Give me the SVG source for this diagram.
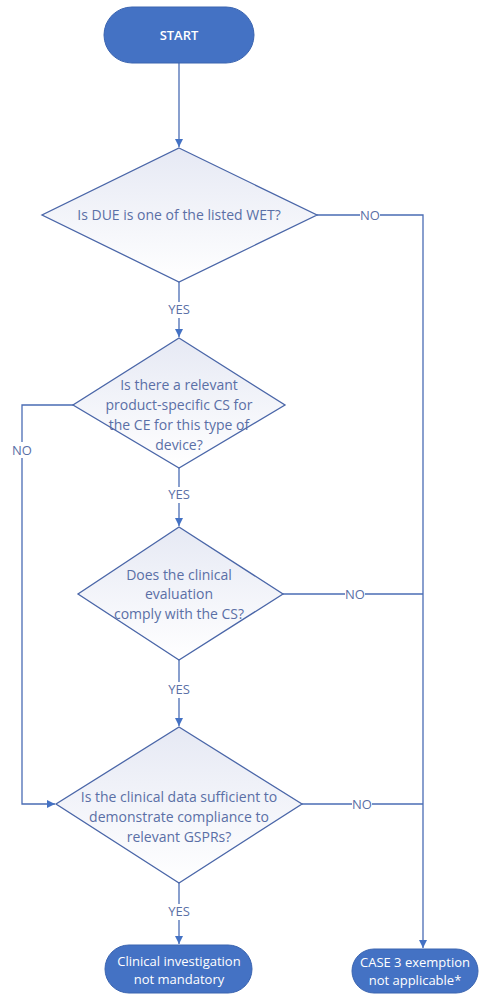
<svg xmlns="http://www.w3.org/2000/svg" width="492" height="997" viewBox="0 0 492 997">
  <style>
    .term { fill: #4472C4; stroke: #3A64B0; stroke-width: 1; }
    .term-text { fill: #ffffff; font-family: "Open Sans", "Liberation Sans", sans-serif; font-size: 13px; text-anchor: middle; }
    .dec { fill: url(#decFill); stroke: #4A66A8; stroke-width: 1.3; }
    .dec-text { fill: #5A6FA6; font-family: "Open Sans", "Liberation Sans", sans-serif; font-size: 14px; text-anchor: middle; }
    .wire { fill: none; stroke: #4A6CB4; stroke-width: 1.3; }
    .lbl { fill: #5A6FA6; font-family: "Open Sans", "Liberation Sans", sans-serif; font-size: 13px; text-anchor: middle; }
    .lbl-bg { fill: #ffffff; }
  </style>
  <defs>
    <linearGradient id="decFill" x1="0" y1="0" x2="0" y2="1">
      <stop offset="0" stop-color="#E6E9F4"/>
      <stop offset="1" stop-color="#FFFFFF"/>
    </linearGradient>
    <marker id="arrow" viewBox="0 0 10 10" refX="10" refY="5" markerWidth="8" markerHeight="8" markerUnits="userSpaceOnUse" orient="auto">
      <path d="M0,0 L10,5 L0,10 z" fill="#4472C4"/>
    </marker>
  </defs>

  <rect width="492" height="997" fill="#ffffff"/>

  <!-- connectors -->
  <g id="connectors">
    <path class="wire" d="M179,63 V147" marker-end="url(#arrow)"/>
    <path class="wire" d="M179,282 V337" marker-end="url(#arrow)"/>
    <path class="wire" d="M317,215 H423 V948" marker-end="url(#arrow)"/>
    <path class="wire" d="M73,405 H22 V804 H55" marker-end="url(#arrow)"/>
    <path class="wire" d="M179,468 V526" marker-end="url(#arrow)"/>
    <path class="wire" d="M283,594 H423"/>
    <path class="wire" d="M179,660 V726" marker-end="url(#arrow)"/>
    <path class="wire" d="M302,804 H423"/>
    <path class="wire" d="M179,883 V944" marker-end="url(#arrow)"/>

    <rect class="lbl-bg" x="164" y="302" width="30" height="16"/>
    <text class="lbl" x="179" y="314">YES</text>
    <rect class="lbl-bg" x="164" y="487" width="30" height="16"/>
    <text class="lbl" x="179" y="499">YES</text>
    <rect class="lbl-bg" x="164" y="682" width="30" height="16"/>
    <text class="lbl" x="179" y="694">YES</text>
    <rect class="lbl-bg" x="164" y="904" width="30" height="16"/>
    <text class="lbl" x="179" y="916">YES</text>

    <rect class="lbl-bg" x="360" y="207" width="20" height="16"/>
    <text class="lbl" x="370" y="220">NO</text>
    <rect class="lbl-bg" x="345" y="586" width="20" height="16"/>
    <text class="lbl" x="355" y="599">NO</text>
    <rect class="lbl-bg" x="352" y="796" width="20" height="16"/>
    <text class="lbl" x="362" y="809">NO</text>
    <rect class="lbl-bg" x="10" y="442" width="24" height="16"/>
    <text class="lbl" x="22" y="455">NO</text>
  </g>

  <g id="start">
    <rect class="term" x="104" y="7" width="150" height="56" rx="28"/>
    <text class="term-text" x="179" y="40" font-weight="600">START</text>
  </g>

  <g id="q-wet">
    <polygon class="dec" points="179,148 317,215 179,282 42,215"/>
    <text class="dec-text" x="179" y="220">Is DUE is one of the listed WET?</text>
  </g>

  <g id="q-cs">
    <polygon class="dec" points="179,338 285,405 179,468 73,405"/>
    <text class="dec-text" x="179" y="390">Is there a relevant</text>
    <text class="dec-text" x="179" y="410">product-specific CS for</text>
    <text class="dec-text" x="179" y="430">the CE for this type of</text>
    <text class="dec-text" x="179" y="450">device?</text>
  </g>

  <g id="q-comply">
    <polygon class="dec" points="179,527 283,594 179,660 78,594"/>
    <text class="dec-text" x="179" y="580">Does the clinical</text>
    <text class="dec-text" x="179" y="599">evaluation</text>
    <text class="dec-text" x="179" y="619">comply with the CS?</text>
  </g>

  <g id="q-data">
    <polygon class="dec" points="179,727 302,804 179,883 56,804"/>
    <text class="dec-text" x="179" y="802">Is the clinical data sufficient to</text>
    <text class="dec-text" x="179" y="822">demonstrate compliance to</text>
    <text class="dec-text" x="179" y="842">relevant GSPRs?</text>
  </g>

  <g id="end-not-mandatory">
    <rect class="term" x="105" y="945" width="147" height="48" rx="24"/>
    <text class="term-text" x="179" y="966">Clinical investigation</text>
    <text class="term-text" x="179" y="984">not mandatory</text>
  </g>

  <g id="end-case3">
    <rect class="term" x="352" y="949" width="126" height="44" rx="22"/>
    <text class="term-text" x="415" y="967" font-size="12">CASE 3 exemption</text>
    <text class="term-text" x="415" y="985" font-size="12">not applicable*</text>
  </g>
</svg>
